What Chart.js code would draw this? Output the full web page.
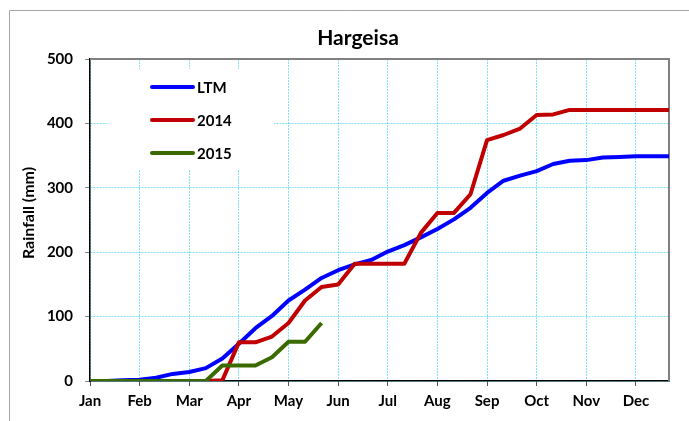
<!DOCTYPE html>
<html>
<head>
<meta charset="utf-8">
<script src="https://cdn.jsdelivr.net/npm/chart.js@4/dist/chart.umd.min.js"></script>
<style>
  html, body { margin: 0; padding: 0; background: #fff; }
  canvas { display: block; }
</style>
</head>
<body>
<canvas id="hargeisa" width="689" height="421"></canvas>
<script>
// Etiquetas de meses (una cada 3 décadas)
const months = ['Jan', 'Feb', 'Mar', 'Apr', 'May', 'Jun', 'Jul', 'Aug', 'Sep', 'Oct', 'Nov', 'Dec'];

// Lluvia acumulada por década (mm)
const ltm = [0, 0, 1, 2, 5, 11, 14, 20, 35, 58, 82, 101, 125, 142, 160, 172, 181, 188,
             201, 211, 223, 236, 251, 269, 292, 311, 319, 326, 337, 342, 343, 347, 348, 349, 349, 349];
const y2014 = [0, 0, 0, 0, 0, 0, 0, 0, 1, 60, 60, 69, 90, 125, 146, 150, 182, 182,
               182, 182, 230, 261, 261, 290, 374, 382, 392, 413, 414, 421, 421, 421, 421, 421, 421, 421];
const y2015 = [0, 0, 0, 0, 0, 0, 0, 0, 24, 24, 24, 37, 61, 61, 90];

const seriesNames = ['LTM', '2014', '2015'];
const seriesColors = ['#0000ff', '#c00000', '#3a6a00'];

const FONT = 'Lato, "Open Sans", sans-serif';
const GRID = 'rgba(0, 200, 240, 0.5)';

function toPoints(arr) {
    return arr.map((v, i) => ({ x: i, y: v }));
}

// Título, leyenda, bordes y título del eje Y
const decorPlugin = {
    id: 'decor',
    beforeDatasetsDraw(chart) {
        const { ctx, chartArea: a } = chart;
        ctx.save();
        // borde exterior del gráfico
        ctx.strokeStyle = '#a6a6a6';
        ctx.lineWidth = 1;
        ctx.beginPath();
        ctx.moveTo(9.5, 421);
        ctx.lineTo(9.5, 10.5);
        ctx.lineTo(689, 10.5);
        ctx.stroke();
        // borde superior y derecho del área de trazado
        ctx.strokeStyle = '#808080';
        ctx.lineWidth = 2;
        ctx.beginPath();
        ctx.moveTo(a.left, a.top);
        ctx.lineTo(a.right, a.top);
        ctx.lineTo(a.right, a.bottom);
        ctx.stroke();
        // fondo de la leyenda
        ctx.fillStyle = '#fff';
        ctx.fillRect(108, 69, 166, 101);
        // leyenda
        const rows = [87, 120, 153];
        ctx.font = 'bold 15px ' + FONT;
        ctx.textBaseline = 'middle';
        ctx.textAlign = 'left';
        ctx.lineCap = 'round';
        rows.forEach((y, i) => {
            ctx.strokeStyle = seriesColors[i];
            ctx.lineWidth = 4;
            ctx.beginPath();
            ctx.moveTo(152, y);
            ctx.lineTo(193, y);
            ctx.stroke();
            ctx.fillStyle = '#000';
            ctx.fillText(seriesNames[i], 197, y + 1);
        });
        // título
        ctx.font = 'bold 21px ' + FONT;
        ctx.textAlign = 'center';
        ctx.fillText('Hargeisa', 358, 38);
        // título del eje Y
        ctx.translate(29, 213);
        ctx.rotate(-Math.PI / 2);
        ctx.font = 'bold 16px ' + FONT;
        ctx.fillText('Rainfall (mm)', 0, 0);
        ctx.restore();
    }
};

new Chart(document.getElementById('hargeisa'), {
    type: 'line',
    data: {
        datasets: [
            { label: seriesNames[0], data: toPoints(ltm), borderColor: seriesColors[0], order: 3 },
            { label: seriesNames[1], data: toPoints(y2014), borderColor: seriesColors[1], order: 2 },
            { label: seriesNames[2], data: toPoints(y2015), borderColor: seriesColors[2], order: 1 }
        ]
    },
    options: {
        responsive: false,
        animation: false,
        devicePixelRatio: 1,
        layout: { padding: { top: 59, right: 20, bottom: 0, left: 0 } },
        elements: {
            line: { borderWidth: 4, tension: 0, borderJoinStyle: 'round', fill: false },
            point: { radius: 0, hoverRadius: 0 }
        },
        plugins: {
            legend: { display: false },
            title: { display: false },
            tooltip: { enabled: false }
        },
        scales: {
            x: {
                type: 'linear',
                min: 0,
                max: 35,
                afterBuildTicks: scale => {
                    scale.ticks = months.map((m, i) => ({ value: i * 3 }));
                },
                afterFit: scale => { scale.height = 40; },
                ticks: {
                    autoSkip: false,
                    maxRotation: 0,
                    padding: 6,
                    color: '#000',
                    font: { family: FONT, size: 15, weight: 'bold' },
                    callback: v => months[v / 3] || ''
                },
                grid: { color: GRID, tickColor: '#555', tickLength: 5, lineWidth: 1 },
                border: { color: '#000', width: 1.5, dash: [2, 1] }
            },
            y: {
                min: 0,
                max: 500,
                afterFit: scale => { scale.width = 90; },
                ticks: {
                    stepSize: 100,
                    padding: 12,
                    color: '#000',
                    font: { family: FONT, size: 15, weight: 'bold' }
                },
                grid: { color: GRID, tickColor: '#888', tickLength: 5, lineWidth: 1 },
                border: { color: '#000', width: 1.5, dash: [2, 1] }
            }
        }
    },
    plugins: [decorPlugin]
});
</script>
</body>
</html>
